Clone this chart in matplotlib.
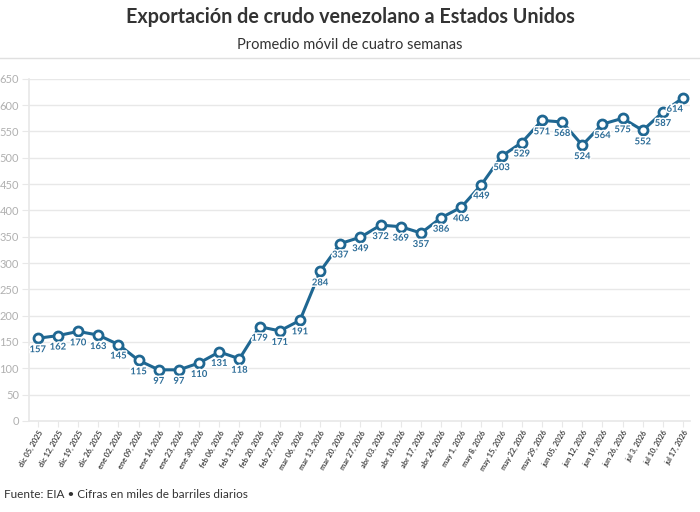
import matplotlib
matplotlib.use("Agg")
import matplotlib.pyplot as plt
import matplotlib.patheffects as pe
from matplotlib.lines import Line2D

dates = ["dic 05, 2025", "dic 12, 2025", "dic 19, 2025", "dic 26, 2025",
         "ene 02, 2026", "ene 09, 2026", "ene 16, 2026", "ene 23, 2026", "ene 30, 2026",
         "feb 06, 2026", "feb 13, 2026", "feb 20, 2026", "feb 27, 2026",
         "mar 06, 2026", "mar 13, 2026", "mar 20, 2026", "mar 27, 2026",
         "abr 03, 2026", "abr 10, 2026", "abr 17, 2026", "abr 24, 2026",
         "may 1, 2026", "may 8, 2026", "may 15, 2026", "may 22, 2026", "may 29, 2026",
         "jun 05, 2026", "jun 12, 2026", "jun 19, 2026", "jun 26, 2026",
         "jul 3, 2026", "jul 10, 2026", "jul 17, 2026"]
values = [157, 162, 170, 163, 145, 115, 97, 97, 110, 131, 118, 179, 171, 191,
          284, 337, 349, 372, 369, 357, 386, 406, 449, 503, 529, 571, 568, 524,
          564, 575, 552, 587, 614]
yticks = list(range(0, 651, 50))

title = "Exportación de crudo venezolano a Estados Unidos"
subtitle = "Promedio móvil de cuatro semanas"
footer = "Fuente: EIA • Cifras en miles de barriles diarios"

plt.rcParams['font.family'] = ['Lato', 'DejaVu Sans']

LINE = '#1f6792'
LABEL = '#2c6c97'
GRID = '#e8e8e8'

fig = plt.figure(figsize=(7.0, 5.12), dpi=100)
ax = fig.add_axes([0.041, 0.178, 0.945, 0.668])

x = list(range(len(values)))
ax.plot(x, values, color=LINE, lw=2.2, marker='o', ms=6.5, mfc='white',
        mec=LINE, mew=2, zorder=3)

for i in x:
    dx = 0
    if i == len(values) - 1:
        dx = -6
    ax.annotate(str(values[i]), (i, values[i]), xytext=(dx, -5),
                textcoords='offset points', ha='center', va='top',
                fontsize=6.8, fontweight='bold', color=LABEL, zorder=4,
                path_effects=[pe.withStroke(linewidth=2.2, foreground='white')])

ax.set_ylim(0, 650)
ax.set_xlim(-0.45, len(values) - 1 + 0.35)
ax.set_yticks(yticks)
ax.set_yticklabels([str(t) for t in yticks], fontsize=8, color='#b0b0b0')
ax.set_xticks(x)
ax.set_xticklabels(dates, rotation=60, ha='right', rotation_mode='anchor',
                   fontsize=5.3, fontweight='bold', color='#444444')
ax.grid(axis='y', color=GRID, lw=1)
ax.set_axisbelow(True)
for s in ['top', 'right']:
    ax.spines[s].set_visible(False)
ax.spines['left'].set_color(GRID)
ax.spines['bottom'].set_color(GRID)
ax.spines['left'].set_linewidth(1.2)
ax.spines['bottom'].set_linewidth(1.2)
ax.tick_params(axis='y', length=5, color=GRID, pad=2)
ax.tick_params(axis='x', length=4, color=GRID, pad=2)

fig.text(0.5, 0.966, title, ha='center', va='center', fontsize=14.2,
         fontweight='bold', color='#333333')
fig.text(0.5, 0.913, subtitle, ha='center', va='center', fontsize=10.5,
         color='#333333')
fig.add_artist(Line2D([0, 1], [1 - 58 / 512, 1 - 58 / 512],
                      transform=fig.transFigure, color='#e0e0e0', lw=1))
fig.text(0.006, 0.035, footer, ha='left', va='center', fontsize=8.5,
         color='#333333')

fig.savefig('out.png', dpi=100, facecolor='white')
